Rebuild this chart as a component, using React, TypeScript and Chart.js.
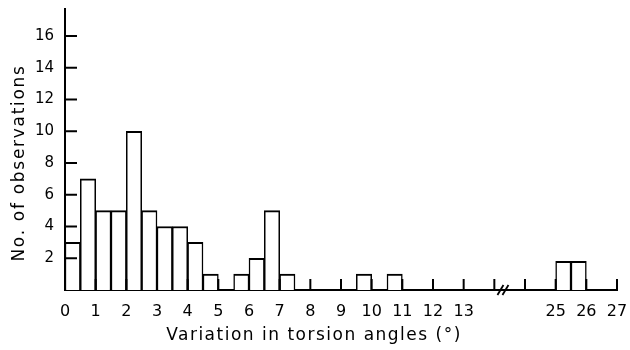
import React, { useEffect, useRef } from "react";
import { Chart, registerables } from "chart.js";

Chart.register(...registerables);

// Histogram bins (start of each 0.5° bin, in degrees) and counts
const binStarts = [0, 0.5, 1, 1.5, 2, 2.5, 3, 3.5, 4, 4.5, 5.5, 6, 6.5, 7, 9.5, 10.5, 25, 25.5];
const counts = [3, 7, 5, 5, 10, 5, 4, 4, 3, 1, 1, 2, 5, 1, 1, 1, 1.8, 1.8];
const binWidth = 0.5;

// x-axis ticks (degrees) and their labels
const xTickValues = [0, 1, 2, 3, 4, 5, 6, 7, 8, 9, 10, 11, 12, 13, 14, 24, 25, 26, 27];
const xTickLabels = ["0", "1", "2", "3", "4", "5", "6", "7", "8", "9", "10", "11", "12", "13", "", "", "25", "26", "27"];
const yTickValues = [2, 4, 6, 8, 10, 12, 14, 16];
const yMax = 17.7;

// axis break between 14 and 24 degrees
const breakFrom = 14;
const breakTo = 24;

const xTitle = "Variation in torsion angles (°)";
const yTitle = "No. of observations";

const toAxis = (v: number) => (v <= breakFrom ? v : v - (breakTo - breakFrom) + 1);

const FONT = "'DejaVu Sans', sans-serif";

const decorPlugin = {
  id: "decor",
  afterDatasetsDraw(chart: any) {
    const { ctx, scales, chartArea } = chart;
    const xs = scales.x;
    const ys = scales.y;
    ctx.save();
    ctx.strokeStyle = "#000";
    ctx.lineWidth = 2;
    ctx.lineCap = "butt";
    // x ticks pointing up
    xTickValues.forEach((v) => {
      const px = xs.getPixelForValue(toAxis(v));
      ctx.beginPath();
      ctx.moveTo(px, chartArea.bottom);
      ctx.lineTo(px, chartArea.bottom - 11);
      ctx.stroke();
    });
    // y ticks pointing right
    yTickValues.forEach((v) => {
      const py = ys.getPixelForValue(v);
      ctx.beginPath();
      ctx.moveTo(chartArea.left, py);
      ctx.lineTo(chartArea.left + 12, py);
      ctx.stroke();
    });
    // axis break marks
    const bx = xs.getPixelForValue(breakFrom + 0.2);
    const by = chartArea.bottom;
    ctx.lineWidth = 1.8;
    [0, 5].forEach((dx) => {
      ctx.beginPath();
      ctx.moveTo(bx + dx - 3, by + 5);
      ctx.lineTo(bx + dx + 3, by - 5);
      ctx.stroke();
    });
    // titles
    ctx.fillStyle = "#000";
    ctx.font = `17px ${FONT}`;
    ctx.textAlign = "center";
    ctx.textBaseline = "middle";
    (ctx as any).letterSpacing = "1.5px";
    ctx.fillText(xTitle, 314, 336);
    (ctx as any).letterSpacing = "1.7px";
    ctx.translate(20, 163);
    ctx.rotate(-Math.PI / 2);
    ctx.fillText(yTitle, 0, 0);
    ctx.restore();
  },
};

export default function App() {
  const ref = useRef<HTMLCanvasElement | null>(null);
  useEffect(() => {
    if (!ref.current) return;
    const data = binStarts.map((s, i) => ({ x: toAxis(s + binWidth / 2), y: counts[i] }));
    const chart = new Chart(ref.current, {
      type: "bar",
      data: {
        datasets: [
          {
            data: data as any,
            backgroundColor: "#fff",
            borderColor: "#000",
            borderWidth: { top: 2, left: 1.5, right: 1.5, bottom: 0 } as any,
            borderSkipped: "start",
            barPercentage: 1,
            categoryPercentage: 1,
          },
        ],
      },
      options: {
        responsive: false,
        animation: false,
        devicePixelRatio: 1,
        layout: { padding: { top: 9, right: 13, left: 0, bottom: 0 } },
        plugins: { legend: { display: false }, tooltip: { enabled: false } },
        scales: {
          x: {
            type: "linear",
            offset: false,
            min: 0,
            max: toAxis(27),
            grid: { drawOnChartArea: false, drawTicks: false },
            border: { display: true, color: "#000", width: 2 },
            afterBuildTicks: (s: any) => {
              s.ticks = xTickValues.map((v) => ({ value: toAxis(v) }));
            },
            afterFit: (s: any) => {
              s.height = 60;
              s.paddingLeft = 0;
              s.paddingRight = 0;
            },
            ticks: {
              autoSkip: false,
              maxRotation: 0,
              padding: 12,
              color: "#000",
              font: { family: FONT, size: 16 },
              callback: (_v: any, i: number) => xTickLabels[i],
            },
          },
          y: {
            type: "linear",
            min: 0,
            max: yMax,
            grid: { drawOnChartArea: false, drawTicks: false },
            border: { display: true, color: "#000", width: 2 },
            afterBuildTicks: (s: any) => {
              s.ticks = yTickValues.map((v) => ({ value: v }));
            },
            afterFit: (s: any) => {
              s.width = 65;
              s.paddingTop = 0;
              s.paddingBottom = 0;
            },
            ticks: {
              padding: 11,
              color: "#000",
              font: { family: FONT, size: 15 },
            },
          },
        },
      },
      plugins: [decorPlugin],
    });
    return () => chart.destroy();
  }, []);
  return (
    <canvas
      ref={ref}
      width={630}
      height={350}
      style={{ position: "absolute", left: 0, top: 0, display: "block", background: "#fff" }}
    />
  );
}
